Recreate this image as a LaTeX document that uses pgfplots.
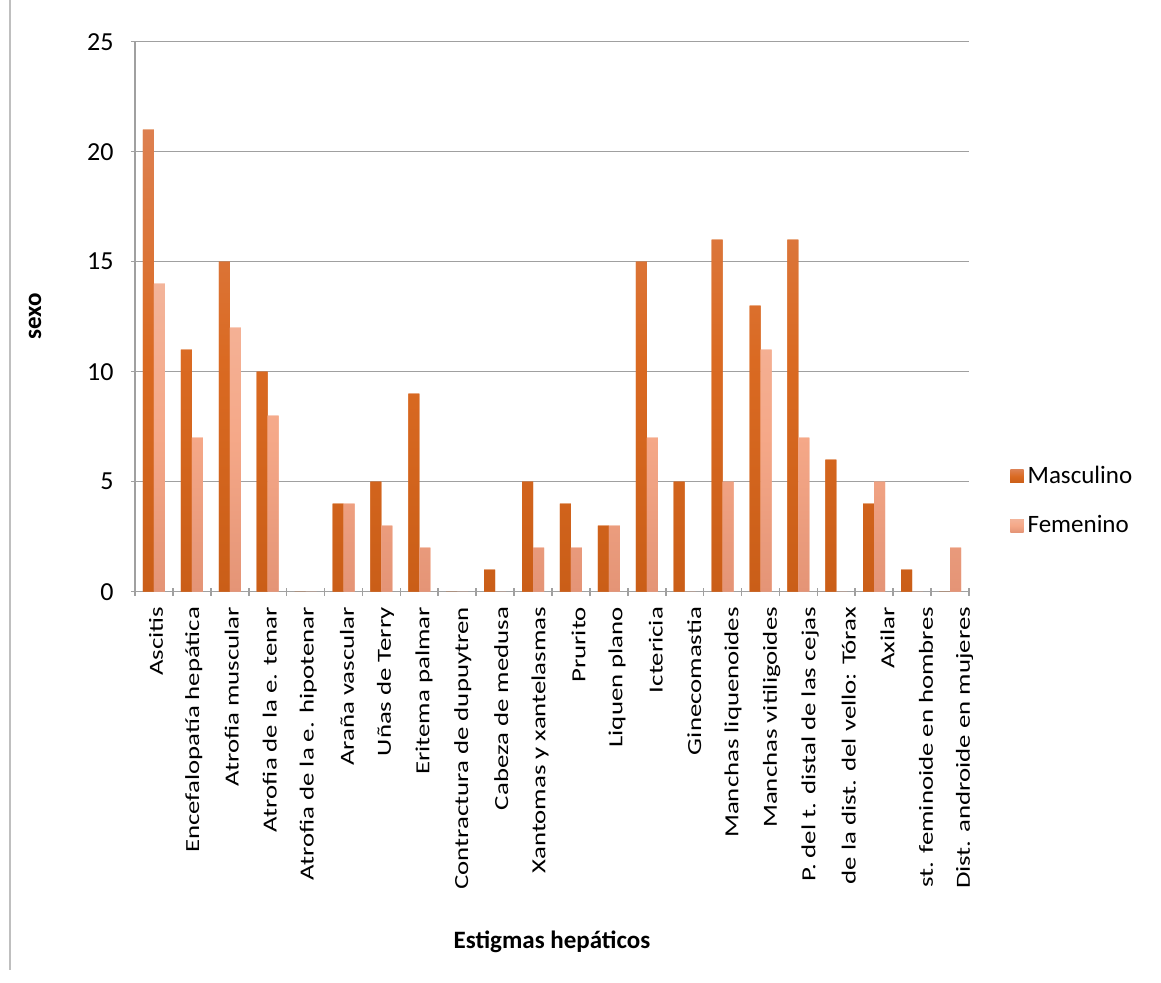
\documentclass[border=0pt]{standalone}
\usepackage{graphicx}
\usepackage{pgfplots}
\pgfplotsset{compat=1.18}
\usepackage{fontspec}
\setmainfont{Carlito}
\definecolor{masc}{RGB}{218,106,34}
\definecolor{mascTop}{RGB}{221,128,80}
\definecolor{mascBot}{RGB}{202,94,24}
\definecolor{fem}{RGB}{245,168,136}
\definecolor{femTop}{RGB}{243,180,154}
\definecolor{femBot}{RGB}{228,148,118}
\definecolor{gridgray}{RGB}{160,160,160}
\newcommand{\xl}[1]{\scalebox{1.34}[1]{#1}}
\begin{document}
\begin{tikzpicture}
\useasboundingbox (-67.5pt,-195.65pt) rectangle (513pt,295.85pt);
\draw[gray!50, line width=0.6pt] (-62.5pt,295.85pt) -- (-62.5pt,-189pt);
\begin{axis}[
  at={(0,0)}, anchor=south west,
  scale only axis,
  width=417pt, height=275pt,
  font=\fontsize{13}{15}\selectfont,
  ybar, bar width=5.5pt,
  ymin=0, ymax=25, ytick={0,5,...,25},
  xmin=-0.5, xmax=21.5,
  xtick={0,1,2,3,4.018,5.037,6.055,7.074,8.092,9.111,10.129,11.148,12.166,13.185,14.203,15.222,16.24,17.259,18.277,19.296,20.314,21.333},
  xticklabels={{\xl{Ascitis}},{\xl{Encefalopatía hepática}},{\xl{Atrofia muscular}},{\xl{Atrofia de la e. tenar}},{\xl{Atrofia de la e. hipotenar}},{\xl{Araña vascular}},{\xl{Uñas de Terry}},{\xl{Eritema palmar}},{\xl{Contractura de dupuytren}},{\xl{Cabeza de medusa}},{\xl{Xantomas y xantelasmas}},{\xl{Prurito}},{\xl{Liquen plano}},{\xl{Ictericia}},{\xl{Ginecomastia}},{\xl{Manchas liquenoides}},{\xl{Manchas vitiligoides}},{\xl{P. del t. distal de las cejas}},{\xl{P. de la dist. del vello: Tórax}},{\xl{Axilar}},{\xl{Dist. feminoide en hombres}},{\xl{Dist. androide en mujeres}}},
  minor xtick={-0.5,0.5,...,21.5},
  major x tick style={draw=none},
  minor x tick style={gridgray, line width=0.8pt},
  minor tick length=4pt,
  major tick length=4pt,
  tick align=outside,
  ytick style={gridgray, line width=0.8pt},
  xticklabel style={font=\fontsize{10}{12}\selectfont, rotate=90, anchor=east, inner sep=0pt, xshift=-5.5pt, yshift=-1pt},
  yticklabel style={inner sep=0pt, xshift=-8.5pt},
  /pgf/number format/assume math mode=true,
  axis lines=left,
  axis line style={gridgray, line width=0.8pt, -},
  ymajorgrids,
  grid style={gridgray, line width=0.8pt},
  xlabel={\bfseries Estigmas hepáticos},
  xlabel style={font=\fontsize{12.5}{14}\selectfont, at={(axis description cs:0.5,0)}, anchor=center, yshift=-175pt},
  ylabel={\bfseries sexo},
  ylabel style={font=\fontsize{12.5}{14}\selectfont, at={(axis description cs:0,0.5)}, anchor=center, yshift=50pt},
  legend style={at={(1.042,0.165)}, anchor=west, draw=none, fill=none,
    font=\fontsize{12.5}{14.5}\selectfont, row sep=10.5pt,
    /tikz/every even column/.append style={column sep=6.5pt}},
  legend cell align=left,
  legend image code/.code={\fill[#1] (0pt,-3.3pt) rectangle (6.6pt,3.3pt);},
]
\addplot[draw=none, bar shift=-2.75pt, fill=masc, top color=mascTop, bottom color=mascBot, middle color=masc] coordinates {
(0,21) (1,11) (2,15) (3,10) (4,0) (5,4) (6,5) (7,9) (8,0) (9,1) (10,5)
(11,4) (12,3) (13,15) (14,5) (15,16) (16,13) (17,16) (18,6) (19,4) (20,1) (21,0)};
\addplot[draw=none, bar shift=2.75pt, fill=fem, top color=femTop, bottom color=femBot, middle color=fem] coordinates {
(0,14) (1,7) (2,12) (3,8) (4,0) (5,4) (6,3) (7,2) (8,0) (9,0) (10,2)
(11,2) (12,3) (13,7) (14,0) (15,5) (16,11) (17,7) (18,0) (19,5) (20,0) (21,2)};
\legend{Masculino, Femenino}
\end{axis}
\fill[white, even odd rule] (-7.5pt,-148.15pt) rectangle (432.5pt,-195.65pt)
  (157.5pt,-166.65pt) rectangle (260pt,-185.15pt);
\fill[white] (419pt,-3.15pt) rectangle (432.5pt,-148.15pt);
\end{tikzpicture}
\end{document}
